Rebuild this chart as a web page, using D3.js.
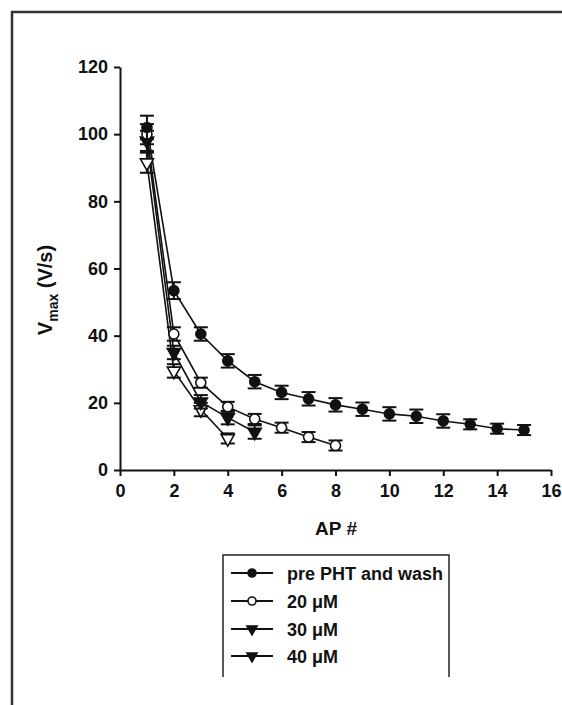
<!DOCTYPE html>
<meta charset="utf-8">
<style>
  body { margin: 0; background: #fff; }
  text { font-family: "Liberation Sans", Arial, sans-serif; font-weight: bold; fill: #111; }
  .axis path, .axis line { stroke: #111; stroke-width: 2px; }
  .series { fill: none; stroke: #111; stroke-width: 1.6px; }
  .err { stroke: #111; stroke-width: 2px; }
</style>
<body>
<svg id="chart" width="562" height="705"></svg>
<script src="https://d3js.org/d3.v7.min.js"></script>
<script>

// AP number and Vmax (V/s)
var preAP  = [1, 2, 3, 4, 5, 6, 7, 8, 9, 10, 11, 12, 13, 14, 15];
var preV   = [102, 53.4, 40.5, 32.5, 26.3, 23.1, 21.2, 19.4, 18.1, 16.7, 16.0, 14.6, 13.6, 12.3, 11.9];
var preErr = [3.5, 2.5, 2, 2, 2, 2, 2, 2, 2, 2, 2, 2, 1.5, 1.5, 1.5];

var ap20  = [1, 2, 3, 4, 5, 6, 7, 8];
var v20   = [100, 40.5, 26, 18.8, 15.2, 12.6, 9.8, 7.3];
var err20 = [3, 2, 1.5, 1.5, 1.5, 1.5, 1.5, 1.5];

var ap30  = [1, 2, 3, 4, 5];
var v30   = [98, 35, 20.3, 15.6, 11.3];
var err30 = [3, 2, 2, 2, 2];

var ap40  = [1, 2, 3, 4];
var v40   = [91.5, 29.5, 18, 9.4];
var err40 = [3, 2, 2, 1.5];

var legendLabels = ["pre PHT and wash", "20 \u03bcM", "30 \u03bcM", "40 \u03bcM"];
var xTicks = [0, 2, 4, 6, 8, 10, 12, 14, 16];
var yTicks = [0, 20, 40, 60, 80, 100, 120];

function zipSeries(ap, v, e) {
  return ap.map(function(a, i) { return {x: a, y: v[i], e: e[i]}; });
}

var series = [
  {name: legendLabels[0], pts: zipSeries(preAP, preV, preErr), sym: "circle", fill: "#111"},
  {name: legendLabels[1], pts: zipSeries(ap20, v20, err20), sym: "circle", fill: "#fff"},
  {name: legendLabels[2], pts: zipSeries(ap30, v30, err30), sym: "tri", fill: "#111"},
  {name: legendLabels[3], pts: zipSeries(ap40, v40, err40), sym: "tri", fill: "#fff"}
];

var svg = d3.select("#chart");

// outer frame (open at right and bottom, as in the scan)
svg.append("path")
  .attr("d", "M12,705 V12 H562")
  .attr("fill", "none")
  .attr("stroke", "#333")
  .attr("stroke-width", 2.5);

var x = d3.scaleLinear().domain([0, 16]).range([120, 551]);
var y = d3.scaleLinear().domain([0, 120]).range([470, 67]);

var xAxis = svg.append("g")
  .attr("class", "axis")
  .attr("transform", "translate(0,470)")
  .call(d3.axisBottom(x).tickValues(xTicks).tickSize(6).tickPadding(8).tickSizeOuter(0));
xAxis.selectAll("text").style("font-size", "18px");

var yAxis = svg.append("g")
  .attr("class", "axis")
  .attr("transform", "translate(120,0)")
  .call(d3.axisLeft(y).tickValues(yTicks).tickSize(6).tickPadding(6).tickSizeOuter(0));
yAxis.selectAll("text").style("font-size", "18px");

svg.append("text")
  .attr("x", 336).attr("y", 535)
  .attr("text-anchor", "middle")
  .style("font-size", "19px")
  .text("AP #");

var ylab = svg.append("text")
  .attr("transform", "translate(52,290) rotate(-90)")
  .attr("text-anchor", "middle")
  .style("font-size", "20px");
ylab.append("tspan").text("V");
ylab.append("tspan").attr("dy", 6).style("font-size", "14px").text("max");
ylab.append("tspan").attr("dy", -6).text(" (V/s)");

var line = d3.line().x(function(d) { return x(d.x); }).y(function(d) { return y(d.y); });

var triDown = d3.symbol().type(d3.symbolTriangle).size(75);
var triSmall = d3.symbol().type(d3.symbolTriangle).size(45);

function drawMarker(g, s, r, small) {
  if (s.sym === "circle") {
    g.append("circle").attr("r", r)
      .attr("fill", s.fill).attr("stroke", "#111").attr("stroke-width", 1.6);
  } else {
    g.append("path").attr("d", small ? triSmall() : triDown())
      .attr("transform", "rotate(180)")
      .attr("fill", s.fill).attr("stroke", "#111").attr("stroke-width", 1.6);
  }
}

// lines first, then error bars and markers on top
series.forEach(function(s) {
  svg.append("path").attr("class", "series").attr("d", line(s.pts));
});

series.slice().reverse().forEach(function(s) {
  var g = svg.append("g");
  s.pts.forEach(function(p) {
    var px = x(p.x), top = y(p.y + p.e), bot = y(p.y - p.e);
    g.append("line").attr("class", "err").attr("x1", px).attr("x2", px).attr("y1", top).attr("y2", bot);
    g.append("line").attr("class", "err").attr("x1", px - 7).attr("x2", px + 7).attr("y1", top).attr("y2", top);
    g.append("line").attr("class", "err").attr("x1", px - 7).attr("x2", px + 7).attr("y1", bot).attr("y2", bot);
    var m = g.append("g").attr("transform", "translate(" + px + "," + y(p.y) + ")");
    drawMarker(m, s, 5, false);
  });
});

// legend box, open at the bottom
svg.append("path")
  .attr("d", "M223,677 V555 H449 V677")
  .attr("fill", "none")
  .attr("stroke", "#222")
  .attr("stroke-width", 1.5);

var rowY = [573, 601, 629, 656];
series.forEach(function(s, i) {
  var g = svg.append("g").attr("transform", "translate(0," + rowY[i] + ")");
  g.append("line").attr("x1", 231).attr("x2", 273).attr("y1", 0).attr("y2", 0)
    .attr("stroke", "#111").attr("stroke-width", 2);
  var m = g.append("g").attr("transform", "translate(252,0)");
  drawMarker(m, {sym: s.sym, fill: i === 1 ? "#fff" : "#111"}, 4, true);
  g.append("text").attr("x", 287).attr("y", 7)
    .style("font-size", "18px")
    .text(s.name);
});

</script>
</body>
